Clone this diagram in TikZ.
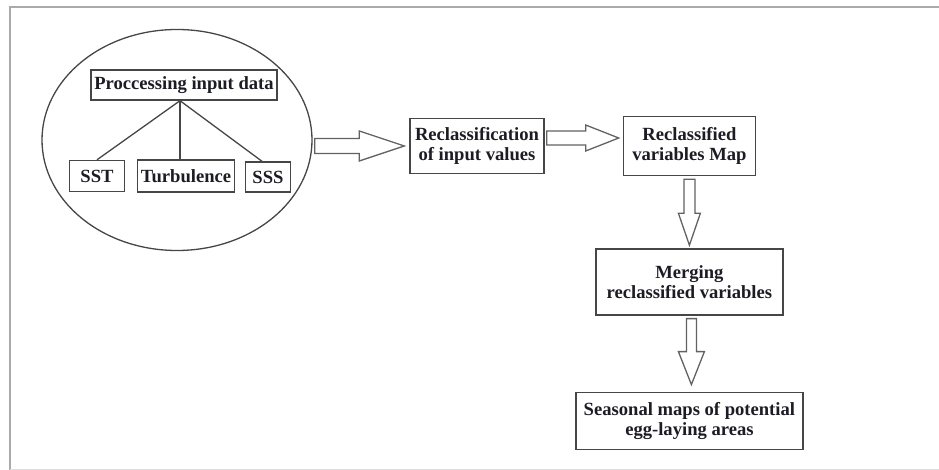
\documentclass[tikz,border=0pt]{standalone}
\usepackage{fontspec}
\setmainfont{Liberation Serif}
\usepackage{tikz}
\usetikzlibrary{shapes.geometric,positioning,calc}
\definecolor{ink}{RGB}{28,28,36}
\definecolor{edge}{RGB}{70,70,70}
\definecolor{frame}{RGB}{170,170,170}

% hollow block arrows: start, end, shaft half width, head half width, head length
\newcommand{\hfat}[5]{\draw[fat] let \p1=#1, \p2=#2 in
  (\x1,\y1+#3) -- (\x2-#5,\y1+#3) -- (\x2-#5,\y1+#4) -- (\x2,\y1)
  -- (\x2-#5,\y1-#4) -- (\x2-#5,\y1-#3) -- (\x1,\y1-#3) -- cycle;}
\newcommand{\vfat}[5]{\draw[fat] let \p1=#1, \p2=#2 in
  (\x1-#3,\y1) -- (\x1-#3,\y2+#5) -- (\x1-#4,\y2+#5) -- (\x1,\y2)
  -- (\x1+#4,\y2+#5) -- (\x1+#3,\y2+#5) -- (\x1+#3,\y1) -- cycle;}

\begin{document}
\begin{tikzpicture}[x=1pt,y=-1pt,font=\fontsize{18.6}{20}\selectfont\bfseries,
  box/.style={draw=edge,line width=1.4pt,inner sep=2pt,align=center,text=ink},
  fat/.style={draw=edge!85,line width=1.3pt,fill=white},
  twig/.style={draw=edge,line width=1.3pt}]
  \useasboundingbox (0,0) rectangle (939,470);
  \draw[frame,line width=2pt] (10,470) -- (10,7) -- (939,7);
  \draw[frame!40,line width=1pt] (10,469) -- (939,469);

  \node[ellipse,draw=edge,line width=1.3pt,minimum width=270pt,minimum height=221pt] (ell) at (177,140) {};
  \node[box,minimum width=186pt,minimum height=30pt] (proc) at (184,85) {Proccessing input data};
  \node[box,minimum width=55pt,minimum height=31pt] (sst) at (97,176) {SST};
  \node[box,minimum width=97pt,minimum height=32pt] (turb) at (186,176) {Turbulence};
  \node[box,minimum width=45pt,minimum height=30pt] (sss) at (268,177) {SSS};
  \coordinate (hub) at ($(proc.south)+(-4,0)$);
  \draw[twig] (hub) -- (sst.north);
  \draw[twig] (hub) -- (hub |- turb.north);
  \draw[twig] (hub) -- ($(sss.north)+(-6,0)$);

  \node[box,minimum width=134pt,minimum height=55pt] (rc) at (477,146) {Reclassification\\of input values};
  \node[box,minimum width=132pt,minimum height=59pt,right=78pt of rc] (rcm) {Reclassified\\variables Map};
  \node[box,minimum width=187pt,minimum height=66pt,below=72pt of rcm] (mg) {Merging\\reclassified variables};
  \node[box,minimum width=227pt,minimum height=57pt,below=76pt of mg] (ssn) {Seasonal maps of potential\\egg-laying areas};

  \hfat{($(ell.east |- rc.west)+(2,0)$)}{($(rc.west)+(-5,0)$)}{7.5pt}{15pt}{45pt}
  \hfat{($(rc.east)+(2,-8)$)}{($(rcm.west)+(-4,-8)$)}{7pt}{13pt}{33pt}
  \vfat{($(rcm.south)+(0,3)$)}{($(mg.north)+(0,-3)$)}{5.5pt}{11pt}{32pt}
  \vfat{($(mg.south)+(2,3)$)}{($(mg.south |- ssn.north)+(2,-7)$)}{5pt}{13pt}{33pt}
\end{tikzpicture}
\end{document}
